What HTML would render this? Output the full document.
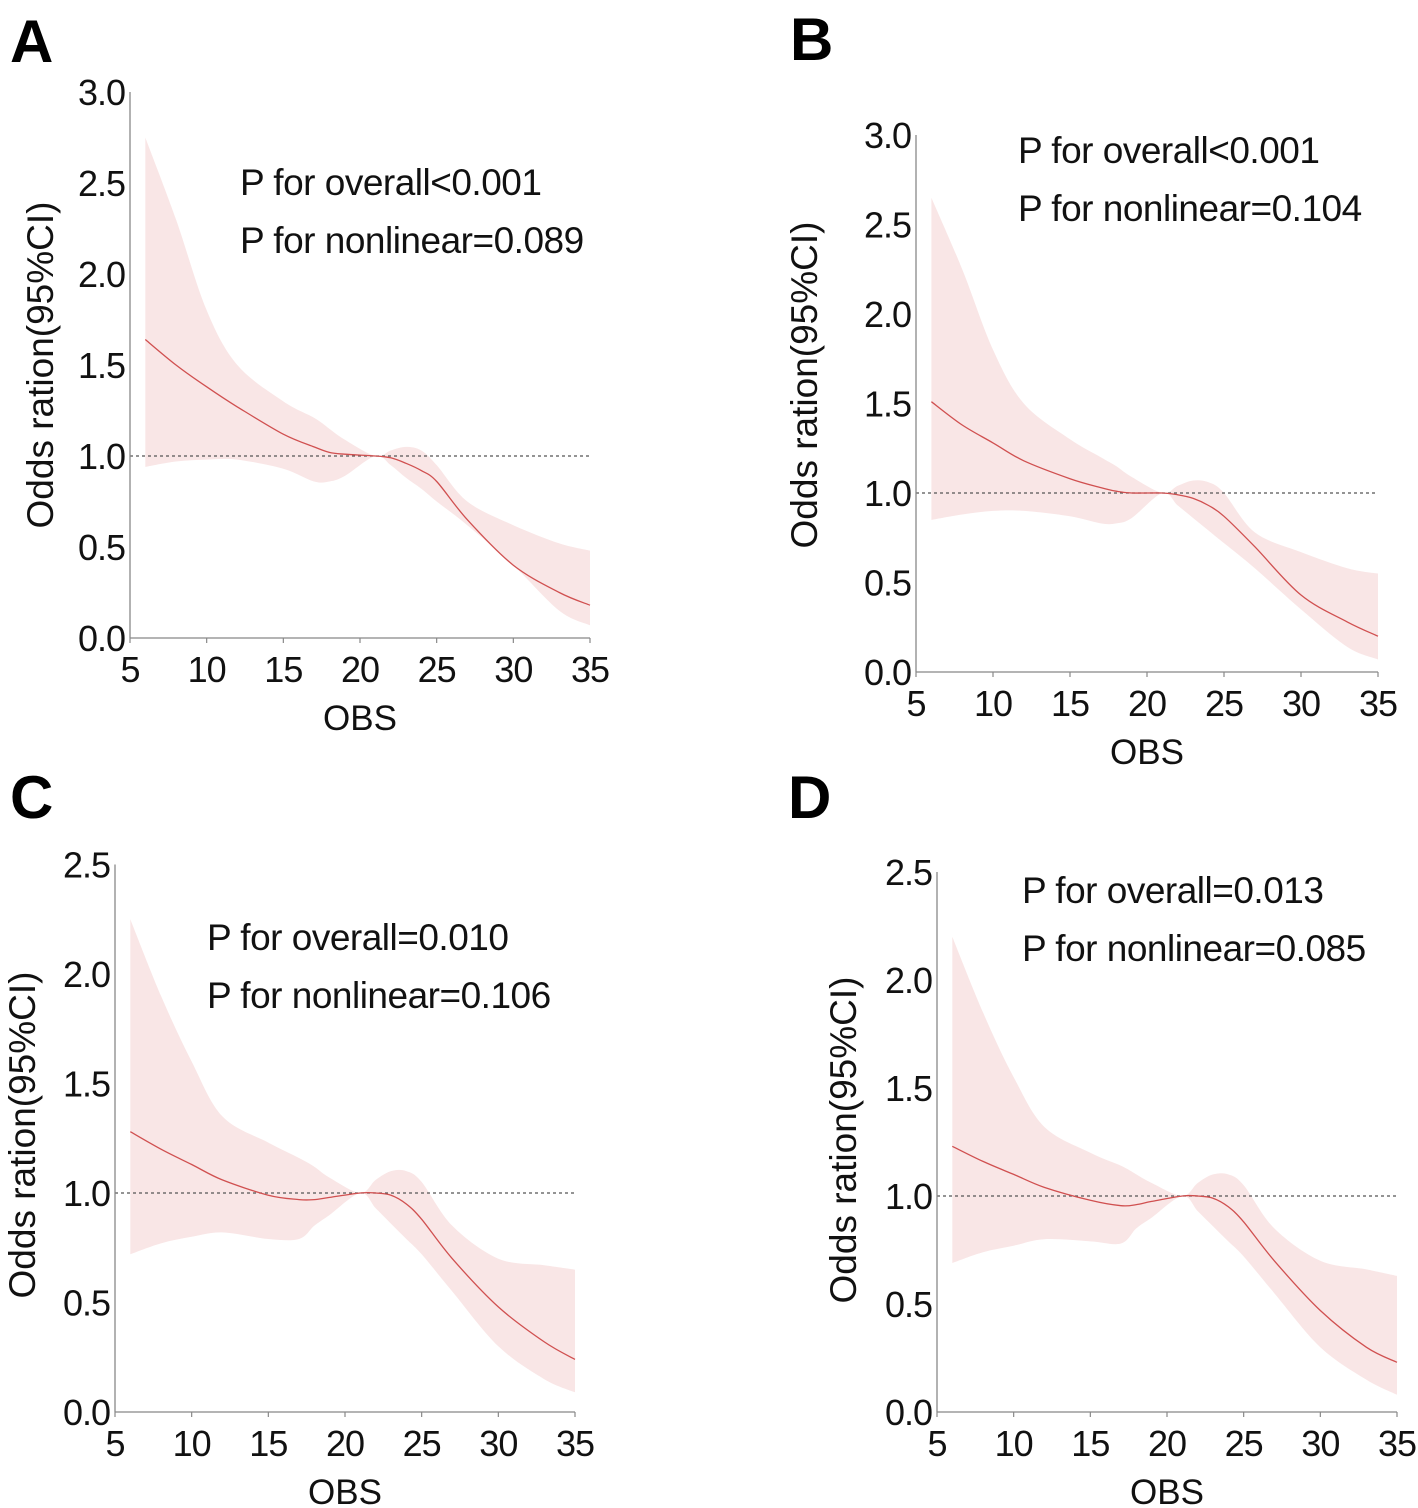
<!DOCTYPE html>
<html><head><meta charset="utf-8">
<style>
html,body{margin:0;padding:0;background:#fff;}
svg{display:block;font-family:"Liberation Sans",sans-serif;}
</style></head>
<body>
<svg id="fig" width="1418" height="1508" viewBox="0 0 1418 1508" xmlns="http://www.w3.org/2000/svg"></svg>
<script>
const xTicks = [5,10,15,20,25,30,35];
const yTicksAB = [0,0.5,1.0,1.5,2.0,2.5,3.0];
const yTicksCD = [0,0.5,1.0,1.5,2.0,2.5];
const xs = [6,8,10,12,15,17,18,19,21,22,23,24,25,27,30,33,35];
const aLine  = [1.64,1.50,1.38,1.27,1.12,1.05,1.02,1.01,1.0,0.99,0.96,0.92,0.86,0.65,0.40,0.25,0.18];
const aUpper = [2.75,2.30,1.80,1.50,1.30,1.21,1.15,1.09,1.0,1.03,1.05,1.03,0.95,0.75,0.62,0.52,0.48];
const aLower = [0.94,0.97,0.98,0.98,0.93,0.86,0.86,0.89,1.0,0.95,0.88,0.82,0.75,0.62,0.40,0.15,0.07];
const bLine  = [1.51,1.38,1.28,1.18,1.08,1.03,1.01,1.0,1.0,0.99,0.97,0.93,0.87,0.70,0.43,0.28,0.20];
const bUpper = [2.65,2.25,1.80,1.50,1.30,1.20,1.15,1.09,1.0,1.04,1.07,1.06,1.00,0.78,0.67,0.58,0.55];
const bLower = [0.85,0.88,0.90,0.90,0.87,0.83,0.83,0.86,1.0,0.93,0.86,0.79,0.72,0.58,0.35,0.14,0.07];
const cLine  = [1.28,1.20,1.13,1.06,0.99,0.97,0.97,0.98,1.0,1.0,0.99,0.95,0.88,0.70,0.48,0.32,0.24];
const cUpper = [2.25,1.90,1.60,1.35,1.23,1.16,1.12,1.07,1.0,1.06,1.10,1.10,1.05,0.85,0.70,0.67,0.65];
const cLower = [0.72,0.77,0.80,0.82,0.79,0.79,0.85,0.90,1.0,0.93,0.86,0.79,0.72,0.55,0.30,0.15,0.09];
const dLine  = [1.23,1.16,1.10,1.04,0.98,0.955,0.96,0.975,1.0,1.0,0.99,0.95,0.88,0.70,0.47,0.30,0.23];
const dUpper = [2.20,1.85,1.55,1.32,1.20,1.14,1.10,1.06,1.0,1.06,1.10,1.10,1.05,0.85,0.70,0.66,0.63];
const dLower = [0.69,0.74,0.77,0.80,0.79,0.78,0.85,0.90,1.0,0.93,0.86,0.79,0.72,0.55,0.30,0.15,0.08];

const NS = "http://www.w3.org/2000/svg";
const svg = document.getElementById('fig');
function mk(tag, attrs, parent, txt){
  const e = document.createElementNS(NS, tag);
  for (const k in attrs) e.setAttribute(k, attrs[k]);
  if (txt !== undefined) e.textContent = txt;
  (parent||svg).appendChild(e);
  return e;
}
function smooth(pts){
  let d = 'M' + pts[0][0].toFixed(1) + ',' + pts[0][1].toFixed(1);
  for (let i=0;i<pts.length-1;i++){
    const p0=pts[Math.max(i-1,0)], p1=pts[i], p2=pts[i+1], p3=pts[Math.min(i+2,pts.length-1)];
    const c1=[p1[0]+(p2[0]-p0[0])/6, p1[1]+(p2[1]-p0[1])/6];
    const c2=[p2[0]-(p3[0]-p1[0])/6, p2[1]-(p3[1]-p1[1])/6];
    d += ' C'+c1[0].toFixed(1)+','+c1[1].toFixed(1)+' '+c2[0].toFixed(1)+','+c2[1].toFixed(1)+' '+p2[0].toFixed(1)+','+p2[1].toFixed(1);
  }
  return d;
}
function panel(cfg){
  const g = mk('g', {});
  
  
  const X = v => cfg.x0 + (v-5)/30*(cfg.x1-cfg.x0);
  const Y = v => cfg.y0 - v*cfg.unit;
  const ymax = cfg.yTicks[cfg.yTicks.length-1];
  const up = xs.map((x,i)=>[X(x),Y(cfg.upper[i])]);
  const lo = xs.map((x,i)=>[X(x),Y(cfg.lower[i])]).reverse();
  let bd = smooth(up) + ' L' + lo[0][0] + ',' + lo[0][1] + smooth(lo).replace(/^M[^C]*/, ' ') + ' Z';
  const band = mk('path', {d:bd, fill:'#f9e6e6', stroke:'none'}, g);
  
  
  const ref = mk('line', {x1:cfg.x0, x2:cfg.x1, y1:Y(1), y2:Y(1), stroke:'#555', 'stroke-width':1.2, 'stroke-dasharray':'3,3'}, g);
  
  
  const ln = mk('path', {d:smooth(xs.map((x,i)=>[X(x),Y(cfg.line[i])])), fill:'none', stroke:'#d05050', 'stroke-width':1.3}, g);
  
  
  const ya = mk('line', {x1:cfg.x0, x2:cfg.x0, y1:Y(ymax), y2:cfg.y0, stroke:'#888', 'stroke-width':1.3}, g);
  
  
  const xa = mk('line', {x1:cfg.x0, x2:cfg.x1, y1:cfg.y0, y2:cfg.y0, stroke:'#888', 'stroke-width':1.3}, g);
  
  
  cfg.yTicks.forEach(t=>{
    const tl = mk('text', {x:cfg.x0-5, y:Y(t)+13, 'font-size':36, 'text-anchor':'end', fill:'#111', 'letter-spacing':'-1'}, g, t.toFixed(1));
    
    
  });
  xTicks.forEach(t=>{
    mk('line', {x1:X(t), x2:X(t), y1:cfg.y0, y2:cfg.y0+5, stroke:'#888', 'stroke-width':1.2}, g);
    const tl = mk('text', {x:X(t), y:cfg.y0+44, 'font-size':36, 'text-anchor':'middle', fill:'#111', 'letter-spacing':'-1'}, g, String(t));
    
    
  });
  const xt = mk('text', {x:(cfg.x0+cfg.x1)/2, y:cfg.y0+92, 'font-size':35, 'text-anchor':'middle', fill:'#111'}, g, 'OBS');
  
  
  const yt = mk('text', {x:0, y:0, 'font-size':37, 'text-anchor':'middle', fill:'#111', transform:'translate('+cfg.ytx+','+cfg.yty+') rotate(-90)'}, g, 'Odds ration(95%CI)');
  
  
  const p1 = mk('text', {x:cfg.px, y:cfg.py, 'font-size':37, fill:'#111', 'letter-spacing':'-0.5'}, g, cfg.p1);
  
  
  const p2 = mk('text', {x:cfg.px, y:cfg.py+58, 'font-size':37, fill:'#111', 'letter-spacing':'-0.5'}, g, cfg.p2);
  
  
  const lt = mk('text', {x:cfg.lx, y:cfg.ly, 'font-size':60, 'font-weight':'bold', fill:'#000'}, g, cfg.letter);
  
  
}
panel({letter:'A', x0:130, x1:590, y0:638, unit:182, yTicks:yTicksAB, line:aLine, upper:aUpper, lower:aLower,
  ytx:53, yty:365, px:240, py:195, p1:'P for overall<0.001', p2:'P for nonlinear=0.089', lx:10, ly:62});
panel({letter:'B', x0:916, x1:1378, y0:672, unit:179, yTicks:yTicksAB, line:bLine, upper:bUpper, lower:bLower,
  ytx:817, yty:385, px:1018, py:163, p1:'P for overall<0.001', p2:'P for nonlinear=0.104', lx:790, ly:60});
panel({letter:'C', x0:115, x1:575, y0:1412, unit:219, yTicks:yTicksCD, line:cLine, upper:cUpper, lower:cLower,
  ytx:35, yty:1135, px:207, py:950, p1:'P for overall=0.010', p2:'P for nonlinear=0.106', lx:10, ly:818});
panel({letter:'D', x0:937, x1:1397, y0:1412, unit:216, yTicks:yTicksCD, line:dLine, upper:dUpper, lower:dLower,
  ytx:856, yty:1140, px:1022, py:903, p1:'P for overall=0.013', p2:'P for nonlinear=0.085', lx:788, ly:818});
</script>
</body></html>
